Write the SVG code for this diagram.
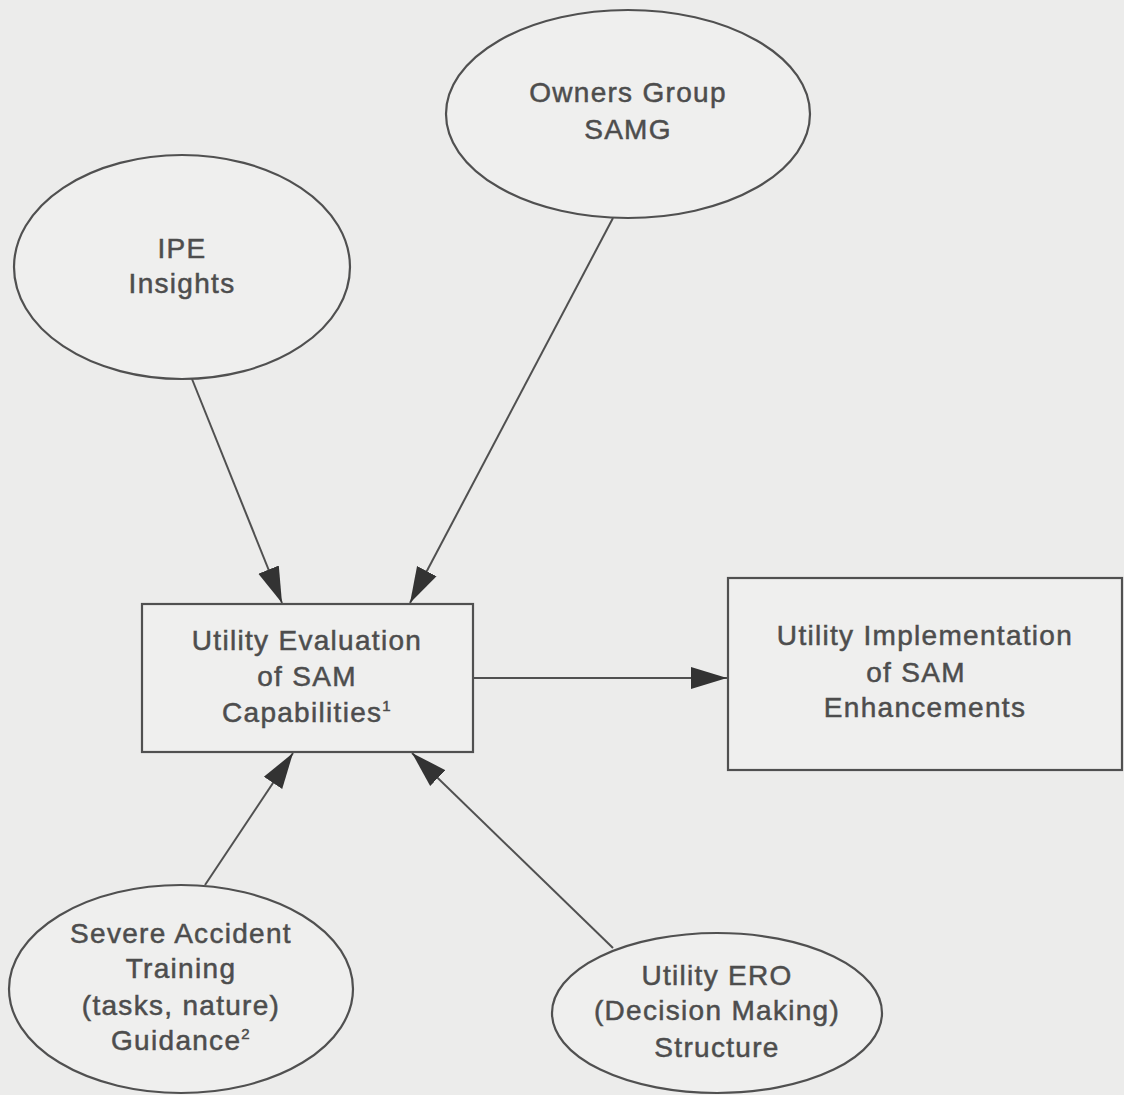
<svg xmlns="http://www.w3.org/2000/svg" width="1124" height="1095" viewBox="0 0 1124 1095">
<style>
.bg{fill:#ececeb}
.shape{fill:#efefee;stroke:#505050;stroke-width:2.2}
.lbl{font-family:"Liberation Sans",Arial,sans-serif;font-size:28px;fill:#4d4d4d;stroke:#4d4d4d;stroke-width:0.5;text-anchor:middle;letter-spacing:1.3px}
.sup{font-size:15px}
.conn{stroke:#505050;stroke-width:2;fill:none;marker-end:url(#ah)}
</style>
<defs>
<marker id="ah" markerUnits="userSpaceOnUse" markerWidth="40" markerHeight="26" refX="36" refY="12" orient="auto">
<path d="M0,1 L36,12 L0,23 Z" fill="#333"/>
</marker>
</defs>
<rect class="bg" x="0" y="0" width="1124" height="1095"/>
<g id="connectors">
<line class="conn" x1="192" y1="379" x2="282" y2="603"/>
<line class="conn" x1="613" y1="218" x2="410" y2="603"/>
<line class="conn" x1="473" y1="678" x2="727" y2="678"/>
<line class="conn" x1="205" y1="885" x2="293" y2="753"/>
<line class="conn" x1="613" y1="948" x2="412" y2="753"/>
</g>
<g id="owners">
<ellipse class="shape" cx="628" cy="114" rx="182" ry="104"/>
<text class="lbl" x="628" y="102">Owners Group</text>
<text class="lbl" x="628" y="139">SAMG</text>
</g>
<g id="ipe">
<ellipse class="shape" cx="182" cy="267" rx="168" ry="112"/>
<text class="lbl" x="182" y="258">IPE</text>
<text class="lbl" x="182" y="293">Insights</text>
</g>
<g id="evaluation">
<rect class="shape" x="142" y="604" width="331" height="148"/>
<text class="lbl" x="307" y="650">Utility Evaluation</text>
<text class="lbl" x="307" y="686">of SAM</text>
<text class="lbl" x="307" y="722">Capabilities<tspan class="sup" dy="-11">1</tspan></text>
</g>
<g id="implementation">
<rect class="shape" x="728" y="578" width="394" height="192"/>
<text class="lbl" x="925" y="645">Utility Implementation</text>
<text class="lbl" x="916" y="682">of SAM</text>
<text class="lbl" x="925" y="717">Enhancements</text>
</g>
<g id="training">
<ellipse class="shape" cx="181" cy="989" rx="172" ry="104"/>
<text class="lbl" x="181" y="943">Severe Accident</text>
<text class="lbl" x="181" y="978">Training</text>
<text class="lbl" x="181" y="1015">(tasks, nature)</text>
<text class="lbl" x="181" y="1050">Guidance<tspan class="sup" dy="-11">2</tspan></text>
</g>
<g id="ero">
<ellipse class="shape" cx="717" cy="1013" rx="165" ry="80"/>
<text class="lbl" x="717" y="985">Utility ERO</text>
<text class="lbl" x="717" y="1020">(Decision Making)</text>
<text class="lbl" x="717" y="1057">Structure</text>
</g>
</svg>
